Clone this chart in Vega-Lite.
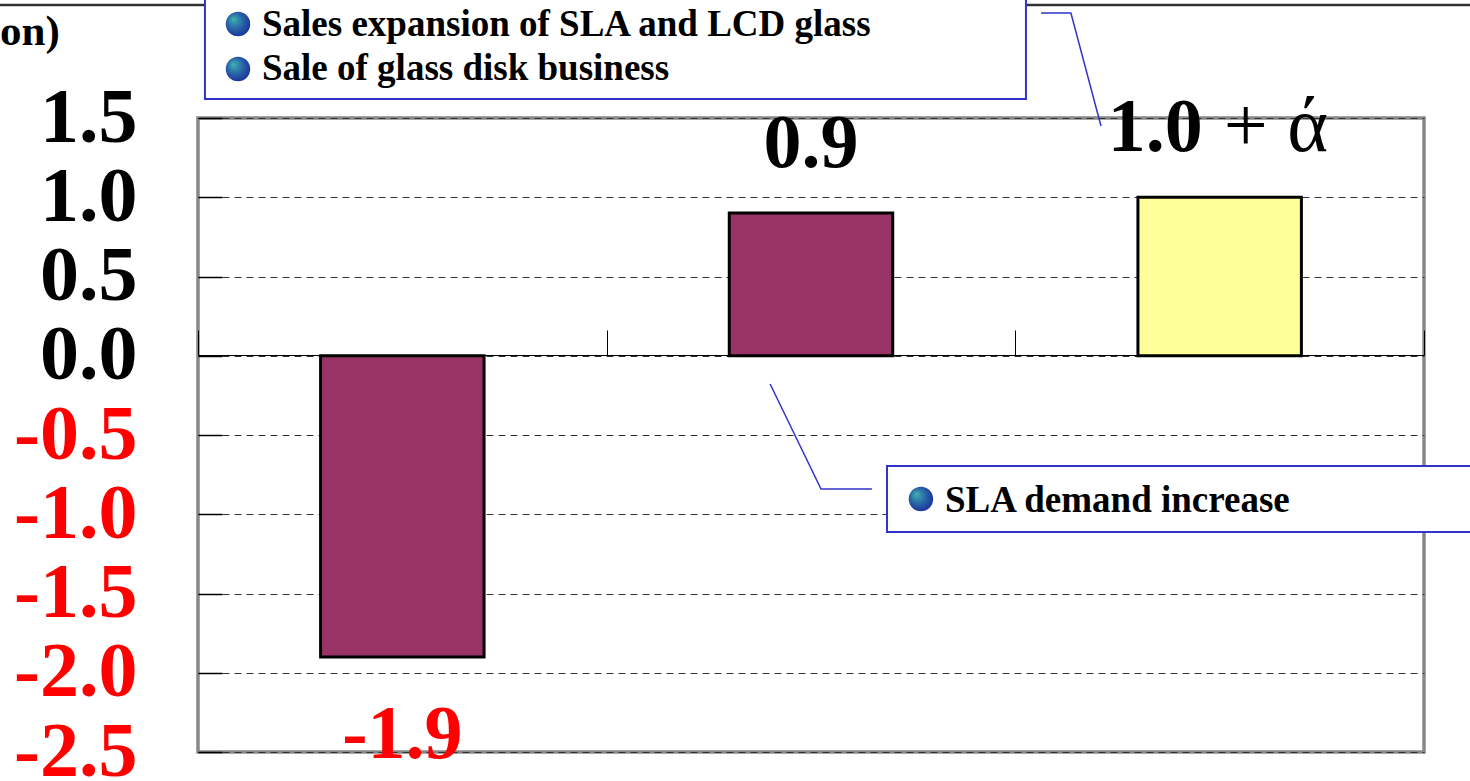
{
  "$schema": "https://vega.github.io/schema/vega-lite/v6.json",
  "width": 1226,
  "height": 634,
  "autosize": "none",
  "padding": {"left": 198, "top": 118, "right": 46, "bottom": 29},
  "background": "white",
  "config": {
    "view": {"stroke": "#888888", "strokeWidth": 3.5},
    "font": "Liberation Serif"
  },
  "datasets": {
    "bars": [
      {"item": "Sale of glass disk business", "value": -1.9, "label": "-1.9", "suffix": "", "kind": "actual"},
      {"item": "SLA demand increase", "value": 0.9, "label": "0.9", "suffix": "", "kind": "actual"},
      {"item": "Sales expansion of SLA and LCD glass", "value": 1.0, "label": "1.0", "suffix": "+ ά", "kind": "outlook"}
    ],
    "boxes": [
      {"x": 0.017, "x2": 2.026, "y": 2.35, "y2": 1.62},
      {"x": 1.686, "x2": 3.3, "y": -0.696, "y2": -1.112}
    ],
    "notes": [
      {"text": "Sales expansion of SLA and LCD glass", "x": 0.1566, "y": 2.017},
      {"text": "Sale of glass disk business", "x": 0.1566, "y": 1.740},
      {"text": "SLA demand increase", "x": 1.828, "y": -0.986}
    ],
    "bullets": [
      {"x": 0.0979, "y": 2.093},
      {"x": 0.0979, "y": 1.809},
      {"x": 1.769, "y": -0.904}
    ],
    "leaders": [
      {"line": 1, "order": 1, "x": 2.063, "y": 2.162},
      {"line": 1, "order": 2, "x": 2.136, "y": 2.162},
      {"line": 1, "order": 3, "x": 2.2096, "y": 1.4495},
      {"line": 2, "order": 1, "x": 1.400, "y": -0.178},
      {"line": 2, "order": 2, "x": 1.5245, "y": -0.841},
      {"line": 2, "order": 3, "x": 1.649, "y": -0.841}
    ],
    "topline": [{"x": -0.49, "x2": 3.12, "y": 2.213}],
    "unit": [{"text": "on)", "x": -0.4845, "y": 1.9606}]
  },
  "resolve": {"scale": {"x": "independent"}},
  "layer": [
    {
      "data": {"name": "bars"},
      "encoding": {
        "x": {
          "field": "item", "type": "nominal", "sort": null,
          "scale": {"paddingInner": 0, "paddingOuter": 0},
          "axis": {
            "orient": "bottom", "offset": -397, "labels": false, "title": null,
            "tickBand": "extent", "tickSize": -25, "tickColor": "black", "tickWidth": 1,
            "domainColor": "black", "domainWidth": 1.2, "grid": false
          }
        },
        "y": {
          "field": "value", "type": "quantitative",
          "scale": {"domain": [-2.5, 1.5], "nice": false, "zero": false},
          "axis": {
            "title": null,
            "values": [-2.5, -2, -1.5, -1, -0.5, 0, 0.5, 1, 1.5],
            "labelExpr": "(datum.value < 0 ? '-' : '') + format(abs(datum.value), '.1f')",
            "labelFont": "Liberation Serif", "labelFontSize": 78, "labelFontWeight": "bold",
            "labelColor": {"condition": {"test": "datum.value < 0", "value": "#FF0000"}, "value": "black"},
            "labelPadding": 85, "labelOverlap": false, "labelBound": false, "labelFlush": false,
            "tickSize": -24, "tickColor": "black", "tickWidth": 1.5,
            "domain": false,
            "grid": true, "gridDash": [7, 5], "gridColor": "#333333", "gridWidth": 1
          }
        }
      },
      "layer": [
        {
          "mark": {"type": "bar", "width": {"band": 0.4}, "stroke": "black", "strokeWidth": 3},
          "encoding": {
            "color": {"field": "kind", "type": "nominal", "scale": {"domain": ["actual", "outlook"], "range": ["#993366", "#FFFF99"]}, "legend": null}
          }
        },
        {
          "transform": [{"filter": "datum.value >= 0 && datum.suffix == ''"}],
          "mark": {"type": "text", "font": "Liberation Serif", "fontSize": 76, "fontWeight": "bold", "align": "center", "baseline": "alphabetic", "dy": -46, "color": "black"},
          "encoding": {"text": {"field": "label"}}
        },
        {
          "transform": [{"filter": "datum.value < 0"}],
          "mark": {"type": "text", "font": "Liberation Serif", "fontSize": 76, "fontWeight": "bold", "align": "center", "baseline": "alphabetic", "dy": 101, "color": "#FF0000"},
          "encoding": {"text": {"field": "label"}}
        },
        {
          "transform": [{"filter": "datum.suffix != ''"}],
          "mark": {"type": "text", "font": "Liberation Serif", "fontSize": 76, "fontWeight": "bold", "align": "right", "baseline": "alphabetic", "dy": -46, "dx": -17, "color": "black"},
          "encoding": {"text": {"field": "label"}}
        },
        {
          "transform": [{"filter": "datum.suffix != ''"}],
          "mark": {"type": "text", "font": "Liberation Serif", "fontSize": 78, "fontWeight": "normal", "align": "left", "baseline": "alphabetic", "dy": -46, "dx": 4, "color": "black"},
          "encoding": {"text": {"field": "suffix"}}
        }
      ]
    },
    {
      "layer": [
        {
          "data": {"name": "topline"},
          "mark": {"type": "rule", "color": "#333333", "strokeWidth": 2.5},
          "encoding": {
            "x": {"field": "x", "type": "quantitative", "scale": {"domain": [0, 3], "nice": false, "zero": false}, "axis": null},
            "x2": {"field": "x2"},
            "y": {"field": "y", "type": "quantitative"}
          }
        },
        {
          "data": {"name": "boxes"},
          "mark": {"type": "rect", "fill": "white", "stroke": "#3333CC", "strokeWidth": 2},
          "encoding": {
            "x": {"field": "x", "type": "quantitative", "scale": {"domain": [0, 3], "nice": false, "zero": false}, "axis": null},
            "x2": {"field": "x2"},
            "y": {"field": "y", "type": "quantitative"},
            "y2": {"field": "y2"}
          }
        },
        {
          "data": {"name": "leaders"},
          "mark": {"type": "line", "color": "#3333CC", "strokeWidth": 1.5},
          "encoding": {
            "x": {"field": "x", "type": "quantitative", "scale": {"domain": [0, 3], "nice": false, "zero": false}, "axis": null},
            "y": {"field": "y", "type": "quantitative"},
            "detail": {"field": "line"},
            "order": {"field": "order"}
          }
        },
        {
          "data": {"name": "bullets"},
          "mark": {
            "type": "point", "shape": "circle", "filled": true, "size": 600, "strokeWidth": 0,
            "fill": {"gradient": "radial", "x1": 0.3, "y1": 0.3, "r1": 0, "x2": 0.45, "y2": 0.45, "r2": 0.6,
              "stops": [{"offset": 0, "color": "#3fb3b0"}, {"offset": 0.5, "color": "#2a6aa8"}, {"offset": 1, "color": "#1a2f9a"}]},
            "opacity": 1
          },
          "encoding": {
            "x": {"field": "x", "type": "quantitative", "scale": {"domain": [0, 3], "nice": false, "zero": false}, "axis": null},
            "y": {"field": "y", "type": "quantitative"}
          }
        },
        {
          "data": {"name": "notes"},
          "mark": {"type": "text", "font": "Liberation Serif", "fontSize": 37, "fontWeight": "bold", "align": "left", "baseline": "alphabetic", "color": "black"},
          "encoding": {
            "x": {"field": "x", "type": "quantitative", "scale": {"domain": [0, 3], "nice": false, "zero": false}, "axis": null},
            "y": {"field": "y", "type": "quantitative"},
            "text": {"field": "text"}
          }
        },
        {
          "data": {"name": "unit"},
          "mark": {"type": "text", "font": "Liberation Serif", "fontSize": 43, "fontWeight": "bold", "align": "left", "baseline": "alphabetic", "color": "black"},
          "encoding": {
            "x": {"field": "x", "type": "quantitative", "scale": {"domain": [0, 3], "nice": false, "zero": false}, "axis": null},
            "y": {"field": "y", "type": "quantitative"},
            "text": {"field": "text"}
          }
        }
      ]
    }
  ]
}
